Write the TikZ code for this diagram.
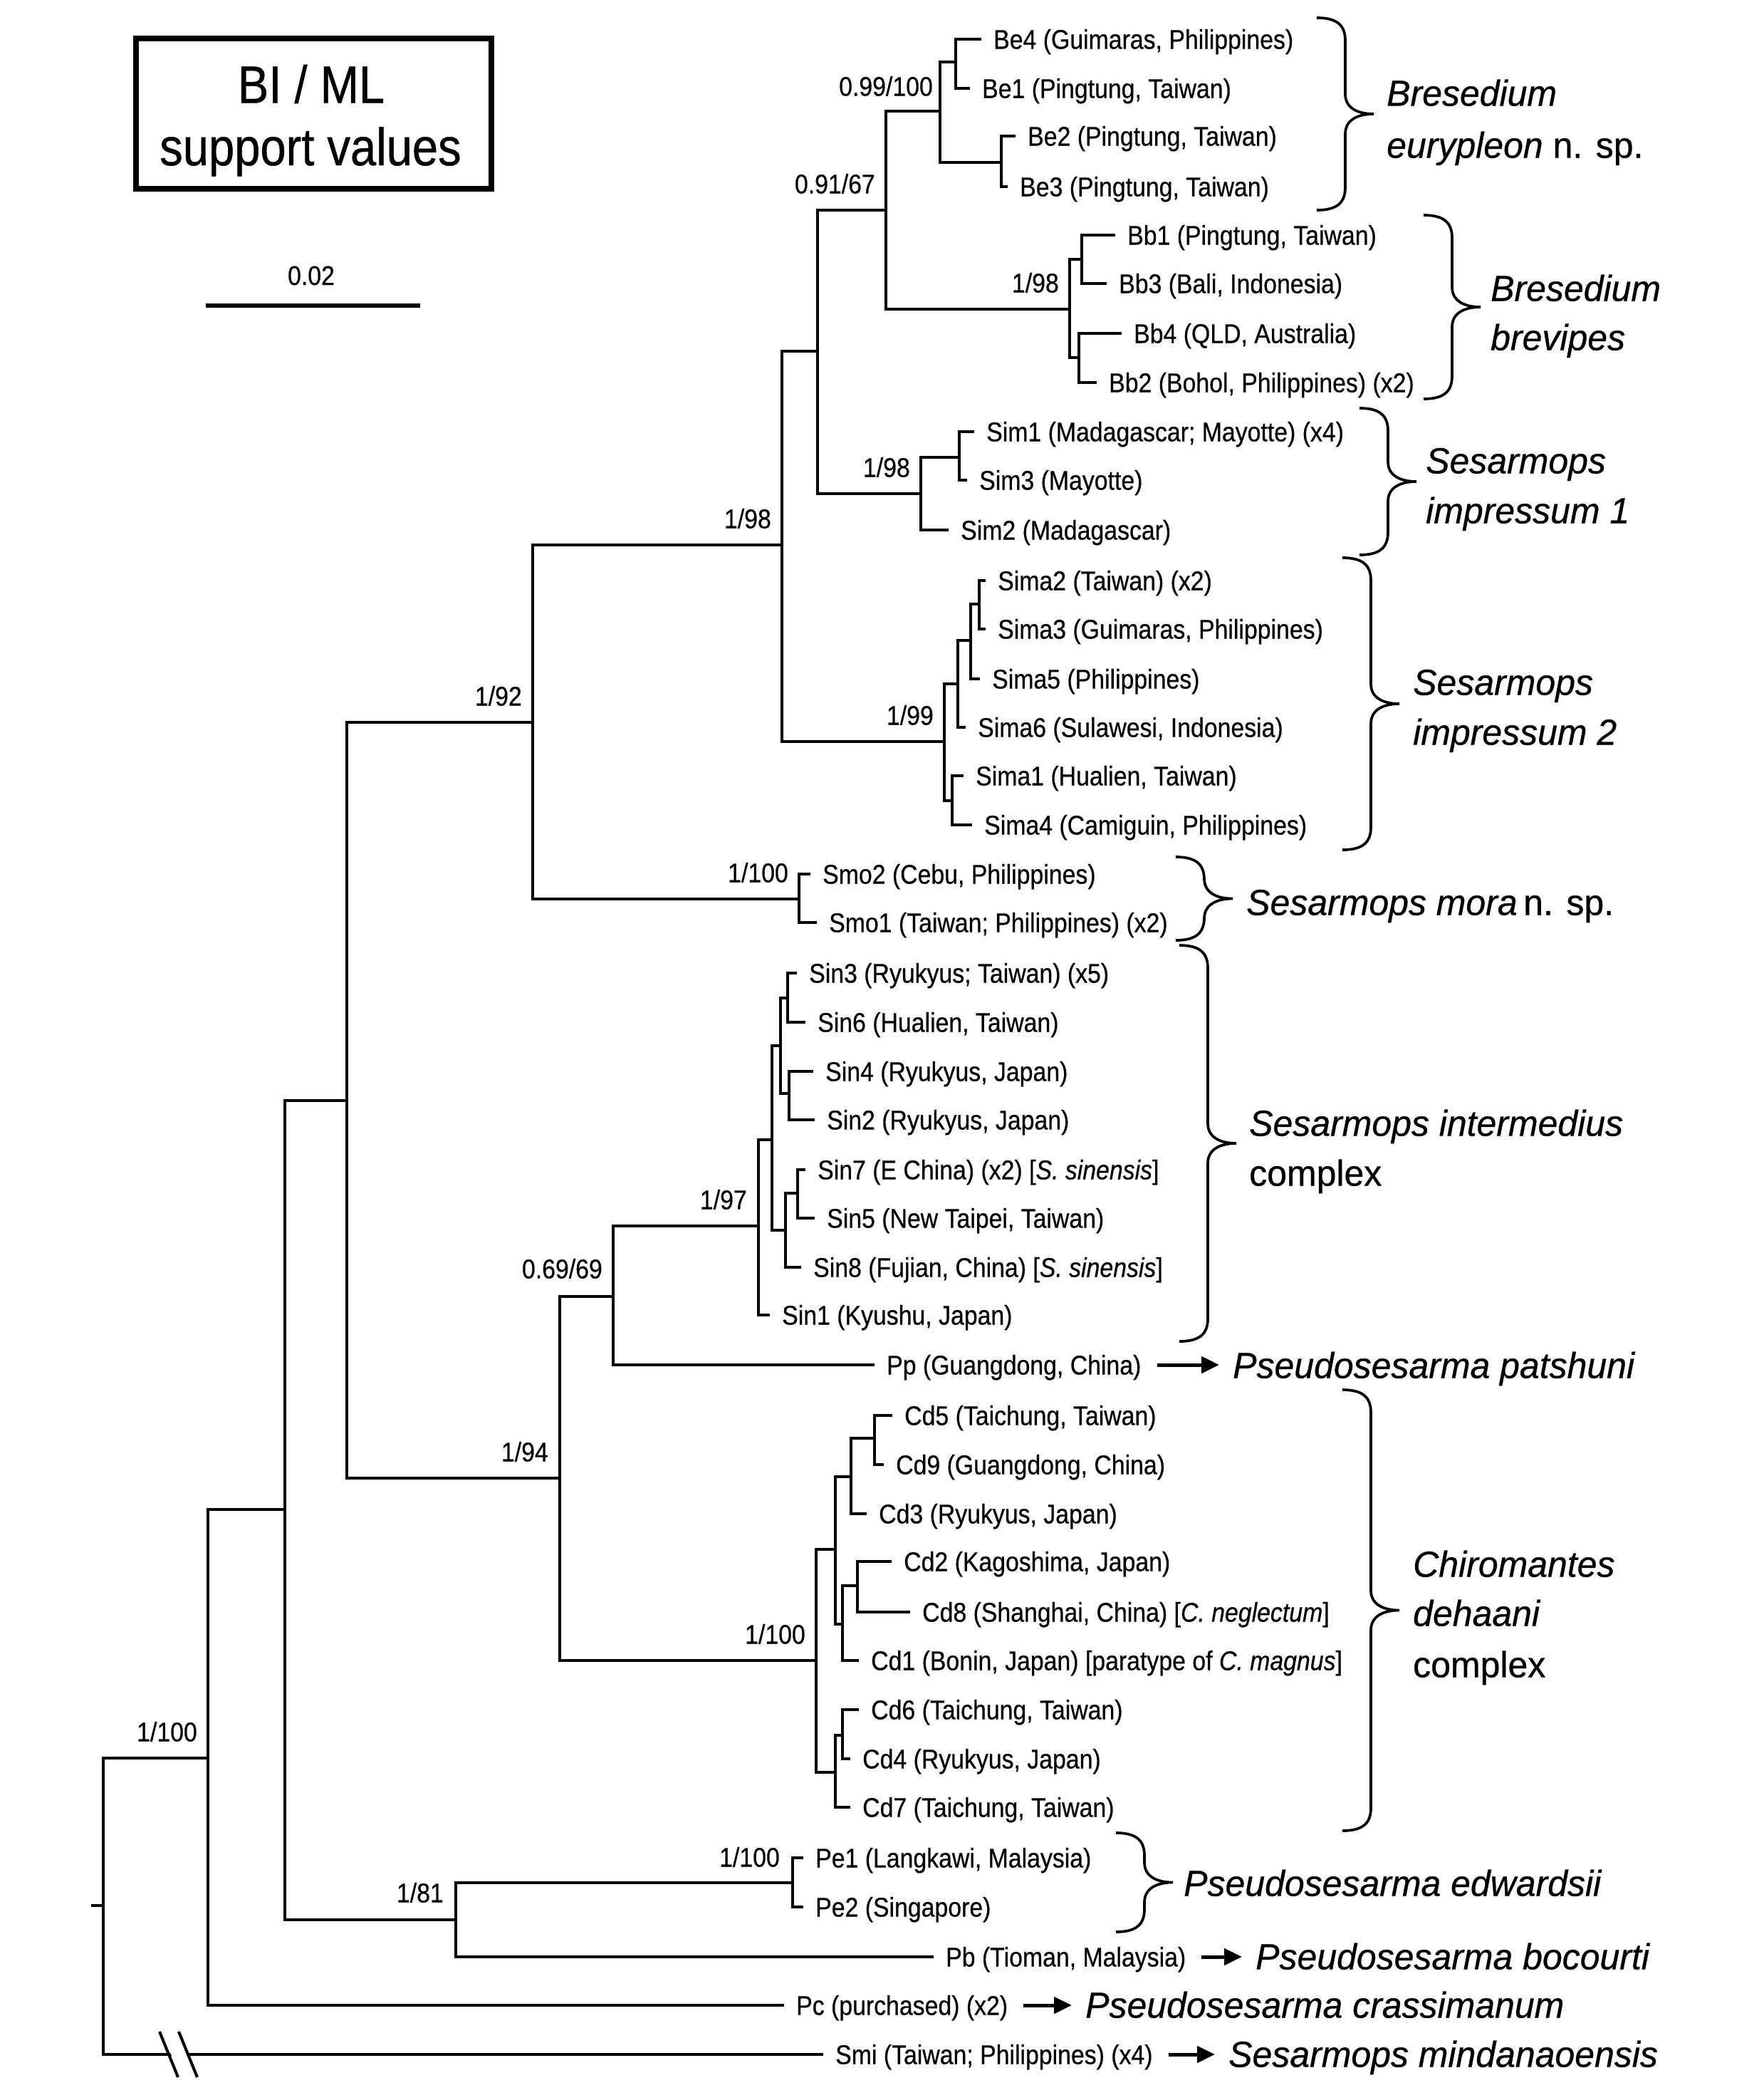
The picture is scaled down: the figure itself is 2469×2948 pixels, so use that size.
\documentclass[tikz,border=0pt]{standalone}
\usepackage{fontspec}
\setmainfont{Liberation Sans}
\newfontfamily\labf[FakeStretch=0.89,FakeBold=0.5]{Liberation Sans}
\newfontfamily\spf[FakeStretch=0.98,FakeBold=0.6]{Liberation Sans}
\newfontfamily\legf[FakeStretch=0.88,FakeBold=0.6]{Liberation Sans}
\usetikzlibrary{arrows.meta}
\newcommand{\cbrace}[3]{%
  \draw[brc] (#1,#2) .. controls ({#1+28},#2) and ({#1+40},{#2+10}) .. ({#1+40},{#2+32})
    -- ({#1+40},{(#2+#3)/2-28}) .. controls ({#1+40},{(#2+#3)/2-8}) and ({#1+58},{(#2+#3)/2}) .. ({#1+80},{(#2+#3)/2})
    .. controls ({#1+58},{(#2+#3)/2}) and ({#1+40},{(#2+#3)/2+8}) .. ({#1+40},{(#2+#3)/2+28})
    -- ({#1+40},{#3-32}) .. controls ({#1+40},{#3-10}) and ({#1+28},#3) .. (#1,#3);}
\begin{document}
\begin{tikzpicture}[x=1pt,y=-1pt,
  br/.style={line width=4.5pt},
  tipl/.style={line width=4.5pt,shorten >=17pt},
  tax/.style={anchor=west,inner sep=0pt,text height=27pt,text depth=0pt,font=\labf\fontsize{38}{46}\selectfont},
  sup/.style={anchor=east,inner sep=0pt,text height=27pt,text depth=0pt,font=\labf\fontsize{38}{46}\selectfont},
  spn/.style={anchor=west,inner sep=0pt,text height=37pt,text depth=0pt,font=\spf\fontsize{51}{60}\selectfont},
  brc/.style={line width=3.7pt},
  arr/.style={line width=5pt,-{Triangle[length=25pt,width=23pt]},shorten <=22pt,shorten >=19pt}
]
\useasboundingbox (0,0) rectangle (2469,2948);

% ---------- legend ----------
\node[draw,line width=7.5pt,minimum width=499pt,minimum height=211pt,inner sep=0pt] (legend) at (440.5,159.5) {};
\node[anchor=base,inner sep=0pt,font=\legf\fontsize{74}{80}\selectfont] (leg1) at (437,144.5) {BI / ML};
\node[anchor=base,inner sep=0pt,font=\legf\fontsize{74}{80}\selectfont] (leg2) at (436,232) {support values};
\coordinate (sb1) at (289,429);
\coordinate (sb2) at (590,429);
\draw[line width=5.5pt] (sb1) -- (sb2);
\node[anchor=base,inner sep=0pt,font=\labf\fontsize{38}{46}\selectfont] (sbl) at (437,400) {0.02};

% ---------- internal nodes ----------
\coordinate (rs) at (128,2675);
\coordinate (R) at (145,2675);
\coordinate (A) at (292,2468);
\coordinate (B) at (400,2119);
\coordinate (C) at (487,1545);
\coordinate (D) at (748,1014);
\coordinate (E) at (1098,765);
\coordinate (F) at (1148,493);
\coordinate (G) at (1244,295);
\coordinate (H) at (1320,156);
\coordinate (h1) at (1342,87);
\coordinate (h2) at (1406,228);
\coordinate (Bb) at (1502,434);
\coordinate (b1) at (1519,364);
\coordinate (b2) at (1515,502);
\coordinate (Sm) at (1293,693);
\coordinate (s1) at (1347,642);
\coordinate (Sa) at (1326,1041);
\coordinate (a1) at (1345,960);
\coordinate (a2) at (1363,899);
\coordinate (a3) at (1375,848);
\coordinate (a4) at (1337,1124);
\coordinate (Mo) at (1122,1262);
\coordinate (K) at (786,2075);
\coordinate (L) at (861,1820);
\coordinate (M) at (1065,1721);
\coordinate (n1) at (1084,1600);
\coordinate (n2) at (1096,1468);
\coordinate (n3) at (1106,1401);
\coordinate (n4) at (1108,1535);
\coordinate (n5) at (1103,1727);
\coordinate (n6) at (1120,1675);
\coordinate (Cd) at (1146,2331);
\coordinate (c1) at (1173,2175);
\coordinate (c2) at (1195,2073);
\coordinate (c3) at (1228,2019);
\coordinate (c4) at (1183,2280);
\coordinate (c5) at (1204,2226);
\coordinate (c6) at (1173,2488);
\coordinate (c7) at (1183,2436);
\coordinate (P) at (640,2695);
\coordinate (Pe) at (1113,2643);

% ---------- tips ----------
\node[tax] (be4) at (1395,55) {Be4 (Guimaras, Philippines)};
\node[tax] (be1) at (1379,124) {Be1 (Pingtung, Taiwan)};
\node[tax] (be2) at (1443,191) {Be2 (Pingtung, Taiwan)};
\node[tax] (be3) at (1432,262) {Be3 (Pingtung, Taiwan)};
\node[tax] (bb1) at (1583,330) {Bb1 (Pingtung, Taiwan)};
\node[tax] (bb3) at (1571,398) {Bb3 (Bali, Indonesia)};
\node[tax] (bb4) at (1592,468) {Bb4 (QLD, Australia)};
\node[tax] (bb2) at (1557,537) {Bb2 (Bohol, Philippines) (x2)};
\node[tax] (sim1) at (1385,606) {Sim1 (Madagascar; Mayotte) (x4)};
\node[tax] (sim3) at (1375,674) {Sim3 (Mayotte)};
\node[tax] (sim2) at (1349,744) {Sim2 (Madagascar)};
\node[tax] (sima2) at (1401,815) {Sima2 (Taiwan) (x2)};
\node[tax] (sima3) at (1401,883) {Sima3 (Guimaras, Philippines)};
\node[tax] (sima5) at (1393,953) {Sima5 (Philippines)};
\node[tax] (sima6) at (1373,1021) {Sima6 (Sulawesi, Indonesia)};
\node[tax] (sima1) at (1370,1089) {Sima1 (Hualien, Taiwan)};
\node[tax] (sima4) at (1382,1158) {Sima4 (Camiguin, Philippines)};
\node[tax] (smo2) at (1155,1227) {Smo2 (Cebu, Philippines)};
\node[tax] (smo1) at (1164,1295) {Smo1 (Taiwan; Philippines) (x2)};
\node[tax] (sin3) at (1136,1366) {Sin3 (Ryukyus; Taiwan) (x5)};
\node[tax] (sin6) at (1148,1435) {Sin6 (Hualien, Taiwan)};
\node[tax] (sin4) at (1159,1504) {Sin4 (Ryukyus, Japan)};
\node[tax] (sin2) at (1161,1572) {Sin2 (Ryukyus, Japan)};
\node[tax] (sin7) at (1148,1642) {Sin7 (E China) (x2) [\textit{S. sinensis}]};
\node[tax] (sin5) at (1161,1710) {Sin5 (New Taipei, Taiwan)};
\node[tax] (sin8) at (1142,1779) {Sin8 (Fujian, China) [\textit{S. sinensis}]};
\node[tax] (sin1) at (1098,1846) {Sin1 (Kyushu, Japan)};
\node[tax] (pp) at (1245,1916) {Pp (Guangdong, China)};
\node[tax] (cd5) at (1270,1987) {Cd5 (Taichung, Taiwan)};
\node[tax] (cd9) at (1258,2056) {Cd9 (Guangdong, China)};
\node[tax] (cd3) at (1234,2125) {Cd3 (Ryukyus, Japan)};
\node[tax] (cd2) at (1269,2192) {Cd2 (Kagoshima, Japan)};
\node[tax] (cd8) at (1295,2263) {Cd8 (Shanghai, China) [\textit{C. neglectum}]};
\node[tax] (cd1) at (1223,2331) {Cd1 (Bonin, Japan) [paratype of \textit{C. magnus}]};
\node[tax] (cd6) at (1223,2400) {Cd6 (Taichung, Taiwan)};
\node[tax] (cd4) at (1211,2469) {Cd4 (Ryukyus, Japan)};
\node[tax] (cd7) at (1211,2537) {Cd7 (Taichung, Taiwan)};
\node[tax] (pe1) at (1145,2608) {Pe1 (Langkawi, Malaysia)};
\node[tax] (pe2) at (1145,2677) {Pe2 (Singapore)};
\node[tax] (pb) at (1328,2747) {Pb (Tioman, Malaysia)};
\node[tax] (pc) at (1118,2815) {Pc (purchased) (x2)};
\node[tax] (smi) at (1173,2884) {Smi (Taiwan; Philippines) (x4)};

% ---------- branches ----------
\draw[br] (rs) -- (R);
\draw[br] (R) |- (A);
\draw[tipl] (R) |- (smi.west);
\draw[br] (A) |- (B);
\draw[tipl] (A) |- (pc.west);
\draw[br] (B) |- (C);
\draw[br] (B) |- (P);
\draw[br] (C) |- (D);
\draw[br] (C) |- (K);
\draw[br] (D) |- (E);
\draw[br] (D) |- (Mo);
\draw[br] (E) |- (F);
\draw[br] (E) |- (Sa);
\draw[br] (F) |- (G);
\draw[br] (F) |- (Sm);
\draw[br] (G) |- (H);
\draw[br] (G) |- (Bb);
\draw[br] (H) |- (h1);
\draw[br] (H) |- (h2);
\draw[tipl] (h1) |- (be4.west);
\draw[tipl] (h1) |- (be1.west);
\draw[tipl] (h2) |- (be2.west);
\draw[tipl] (h2) |- (be3.west);
\draw[br] (Bb) |- (b1);
\draw[br] (Bb) |- (b2);
\draw[tipl] (b1) |- (bb1.west);
\draw[tipl] (b1) |- (bb3.west);
\draw[tipl] (b2) |- (bb4.west);
\draw[tipl] (b2) |- (bb2.west);
\draw[br] (Sm) |- (s1);
\draw[tipl] (Sm) |- (sim2.west);
\draw[tipl] (s1) |- (sim1.west);
\draw[tipl] (s1) |- (sim3.west);
\draw[br] (Sa) |- (a1);
\draw[br] (Sa) |- (a4);
\draw[br] (a1) |- (a2);
\draw[tipl] (a1) |- (sima6.west);
\draw[br] (a2) |- (a3);
\draw[tipl] (a2) |- (sima5.west);
\draw[tipl] (a3) |- (sima2.west);
\draw[tipl] (a3) |- (sima3.west);
\draw[tipl] (a4) |- (sima1.west);
\draw[tipl] (a4) |- (sima4.west);
\draw[tipl] (Mo) |- (smo2.west);
\draw[tipl] (Mo) |- (smo1.west);
\draw[br] (K) |- (L);
\draw[br] (K) |- (Cd);
\draw[br] (L) |- (M);
\draw[tipl] (L) |- (pp.west);
\draw[br] (M) |- (n1);
\draw[tipl] (M) |- (sin1.west);
\draw[br] (n1) |- (n2);
\draw[br] (n1) |- (n5);
\draw[br] (n2) |- (n3);
\draw[br] (n2) |- (n4);
\draw[tipl] (n3) |- (sin3.west);
\draw[tipl] (n3) |- (sin6.west);
\draw[tipl] (n4) |- (sin4.west);
\draw[tipl] (n4) |- (sin2.west);
\draw[br] (n5) |- (n6);
\draw[tipl] (n5) |- (sin8.west);
\draw[tipl] (n6) |- (sin7.west);
\draw[tipl] (n6) |- (sin5.west);
\draw[br] (Cd) |- (c1);
\draw[br] (Cd) |- (c6);
\draw[br] (c1) |- (c2);
\draw[br] (c1) |- (c4);
\draw[br] (c2) |- (c3);
\draw[tipl] (c2) |- (cd3.west);
\draw[tipl] (c3) |- (cd5.west);
\draw[tipl] (c3) |- (cd9.west);
\draw[br] (c4) |- (c5);
\draw[tipl] (c4) |- (cd1.west);
\draw[tipl] (c5) |- (cd2.west);
\draw[tipl] (c5) |- (cd8.west);
\draw[br] (c6) |- (c7);
\draw[tipl] (c6) |- (cd7.west);
\draw[tipl] (c7) |- (cd6.west);
\draw[tipl] (c7) |- (cd4.west);
\draw[br] (P) |- (Pe);
\draw[tipl] (P) |- (pb.west);
\draw[tipl] (Pe) |- (pe1.west);
\draw[tipl] (Pe) |- (pe2.west);

% break marks on outgroup branch
\draw[white,line width=20pt] (246,2872) -- (256,2896);
\coordinate (bk1a) at (224,2852); \coordinate (bk1b) at (250,2916);
\coordinate (bk2a) at (251,2852); \coordinate (bk2b) at (277,2916);
\draw[line width=4pt] (bk1a) -- (bk1b);
\draw[line width=4pt] (bk2a) -- (bk2b);

% ---------- support values ----------
\node[sup] (lA) at (277,2431) {1/100};
\node[sup] (lD) at (733,977) {1/92};
\node[sup] (lE) at (1083,728) {1/98};
\node[sup] (lG) at (1229,258) {0.91/67};
\node[sup] (lH) at (1310,121) {0.99/100};
\node[sup] (lBb) at (1487,397) {1/98};
\node[sup] (lSm) at (1278,656) {1/98};
\node[sup] (lSa) at (1311,1004) {1/99};
\node[sup] (lMo) at (1107,1225) {1/100};
\node[sup] (lK) at (770,2038) {1/94};
\node[sup] (lL) at (846,1781) {0.69/69};
\node[sup] (lM) at (1049,1684) {1/97};
\node[sup] (lCd) at (1131,2294) {1/100};
\node[sup] (lP) at (623,2657) {1/81};
\node[sup] (lPe) at (1095,2607) {1/100};

% ---------- braces ----------
\cbrace{1849}{25}{295}
\cbrace{1999}{302}{560}
\cbrace{1909}{573}{779}
\cbrace{1885}{783}{1193}
\cbrace{1651}{1203}{1320}
\cbrace{1656}{1327}{1883}
\cbrace{1885}{1951}{2570}
\cbrace{1567}{2573}{2712}

% ---------- species names ----------
\node[spn] (besp1) at (1947,130) {\itshape Bresedium};
\node[spn] (besp2) at (1947,203) {\textit{eurypleon} n. sp.};
\node[spn] (bbsp1) at (2093,404) {\itshape Bresedium};
\node[spn] (bbsp2) at (2093,473) {\itshape brevipes};
\node[spn] (simsp1) at (2002,646) {\itshape Sesarmops};
\node[spn] (simsp2) at (2002,716) {\itshape impressum 1};
\node[spn] (simasp1) at (1984,957) {\itshape Sesarmops};
\node[spn] (simasp2) at (1984,1027) {\itshape impressum 2};
\node[spn] (smosp) at (1750,1266) {\textit{Sesarmops mora}\,n. sp.};
\node[spn] (sinsp1) at (1754,1576) {\itshape Sesarmops intermedius};
\node[spn] (sinsp2) at (1754,1646) {complex};
\node[spn] (ppsp) at (1731,1916) {\itshape Pseudosesarma patshuni};
\node[spn] (cdsp1) at (1984,2195) {\itshape Chiromantes};
\node[spn] (cdsp2) at (1984,2264) {\itshape dehaani};
\node[spn] (cdsp3) at (1984,2336) {complex};
\node[spn] (pesp) at (1662,2643) {\itshape Pseudosesarma edwardsii};
\node[spn] (pbsp) at (1763,2746) {\itshape Pseudosesarma bocourti};
\node[spn] (pcsp) at (1524,2814) {\itshape Pseudosesarma crassimanum};
\node[spn] (smisp) at (1725,2883) {\itshape Sesarmops mindanaoensis};

% ---------- arrows ----------
\draw[arr] (pp.east) -- (pp.east -| ppsp.west);
\draw[arr] (pb.east) -- (pb.east -| pbsp.west);
\draw[arr] (pc.east) -- (pc.east -| pcsp.west);
\draw[arr] (smi.east) -- (smi.east -| smisp.west);
\end{tikzpicture}
\end{document}
